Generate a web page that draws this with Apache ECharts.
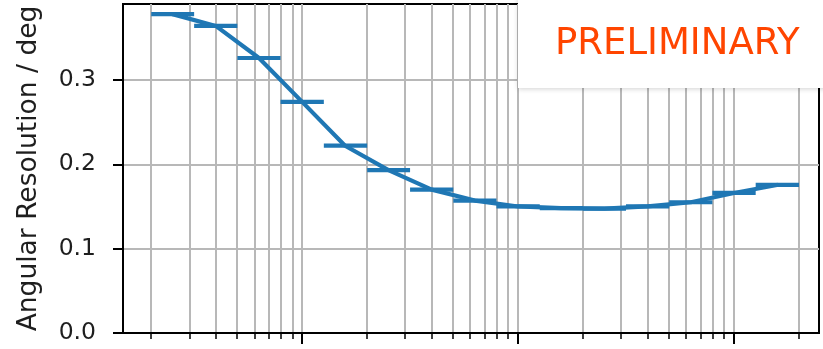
<!DOCTYPE html>
<html>
<head>
<meta charset="utf-8">
<script src="https://cdn.jsdelivr.net/npm/echarts@6.0.0/dist/echarts.min.js"></script>
<style>
  html, body { margin: 0; padding: 0; background: #ffffff; }
  #chart { width: 823px; height: 349px; }
</style>
</head>
<body>
<div id="chart"></div>
<script>
// Energy bins (TeV): lower edge, logarithmic centre, upper edge
const binLow    = [0.2, 0.316, 0.501, 0.794, 1.26, 2.0, 3.16, 5.01, 7.94, 12.6, 20.0, 31.6, 50.1, 79.4, 126];
const binCenter = [0.251, 0.398, 0.631, 1.0, 1.58, 2.51, 3.98, 6.31, 10.0, 15.8, 25.1, 39.8, 63.1, 100, 158];
const binHigh   = [0.316, 0.501, 0.794, 1.26, 2.0, 3.16, 5.01, 7.94, 12.6, 20.0, 31.6, 50.1, 79.4, 126, 200];

// Angular resolution in each bin (deg)
const resolution = [0.378, 0.364, 0.326, 0.274, 0.222, 0.193, 0.170, 0.157, 0.150, 0.148, 0.1475, 0.150, 0.155, 0.166, 0.1755];

// Axis ticks
const yTicks = [0, 0.1, 0.2, 0.3];
const xMajorTicks = [1, 10, 100];
const xMinorTicks = [0.2, 0.3, 0.4, 0.5, 0.6, 0.7, 0.8, 0.9,
                     2, 3, 4, 5, 6, 7, 8, 9,
                     20, 30, 40, 50, 60, 70, 80, 90,
                     200];

const BLUE = '#1f77b4';
const GRID_GREY = '#b8b8b8';
const INK = '#1e1e1e';
const FONT = 'DejaVu Sans';

const chart = echarts.init(document.getElementById('chart'), null, { renderer: 'canvas' });

const linePoints = binCenter.map((x, i) => [x, resolution[i]]);
const errorBars = binCenter.map((x, i) => [binLow[i], binHigh[i], resolution[i]]);

const logAxisBase = {
  type: 'log',
  logBase: 10,
  min: 0.148,
  max: 247.5,
  position: 'bottom',
  axisLabel: { show: false },
  axisLine: { show: true, lineStyle: { color: '#000', width: 2 } }
};

chart.setOption({
  animation: false,
  backgroundColor: '#ffffff',
  grid: {
    left: 123, right: 4, top: 4, bottom: 16,
    show: true, borderColor: '#000', borderWidth: 2, backgroundColor: 'transparent'
  },
  xAxis: [
    Object.assign({}, logAxisBase, {
      axisTick: { show: true, customValues: xMajorTicks, length: 11, lineStyle: { color: '#000', width: 2 } },
      splitLine: { show: true, lineStyle: { color: GRID_GREY, width: 2 } }
    }),
    Object.assign({}, logAxisBase, {
      offset: 0,
      axisTick: { show: true, customValues: xMinorTicks, length: 6, lineStyle: { color: '#000', width: 1.5 } },
      splitLine: { show: true, lineStyle: { color: GRID_GREY, width: 2 } }
    })
  ],
  yAxis: {
    type: 'value',
    min: 0,
    max: 0.39,
    interval: 0.1,
    name: 'Angular Resolution / deg',
    nameLocation: 'middle',
    nameRotate: 90,
    nameGap: 80,
    nameTextStyle: { fontFamily: FONT, fontSize: 26.5, color: INK },
    axisLine: { show: true, lineStyle: { color: '#000', width: 2 } },
    axisTick: { show: true, customValues: yTicks, length: 10, lineStyle: { color: '#000', width: 2 } },
    axisLabel: {
      customValues: yTicks,
      margin: 27,
      fontFamily: FONT, fontSize: 23.5, color: INK,
      formatter: v => Number(v).toFixed(1)
    },
    splitLine: { show: true, lineStyle: { color: GRID_GREY, width: 2 } }
  },
  series: [
    {
      name: 'bin width',
      type: 'custom',
      xAxisIndex: 0,
      z: 3,
      data: errorBars,
      renderItem: (params, api) => {
        const a = api.coord([api.value(0), api.value(2)]);
        const b = api.coord([api.value(1), api.value(2)]);
        return {
          type: 'line',
          shape: { x1: a[0], y1: a[1], x2: b[0], y2: b[1] },
          style: { stroke: BLUE, lineWidth: 4.2 }
        };
      }
    },
    {
      name: 'resolution',
      type: 'line',
      xAxisIndex: 0,
      z: 4,
      data: linePoints,
      symbol: 'none',
      lineStyle: { color: BLUE, width: 4.2, cap: 'round', join: 'round' }
    }
  ],
  graphic: [
    {
      type: 'rect',
      z: 100,
      shape: { x: 518, y: -10, width: 320, height: 98 },
      style: { fill: '#ffffff', shadowBlur: 5, shadowColor: 'rgba(0,0,0,0.18)', shadowOffsetX: 0, shadowOffsetY: 1 }
    },
    {
      type: 'text',
      z: 101,
      x: 555,
      y: 44,
      style: {
        text: 'PRELIMINARY',
        fill: '#ff4500',
        fontFamily: FONT,
        fontSize: 37,
        verticalAlign: 'middle',
        align: 'left'
      }
    }
  ]
});
</script>
</body>
</html>
